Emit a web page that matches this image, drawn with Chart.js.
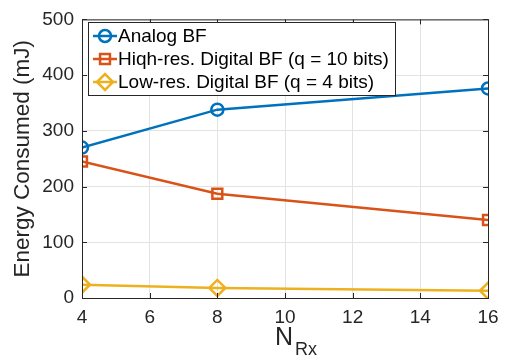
<!DOCTYPE html>
<html>
<head>
<meta charset="utf-8">
<script src="https://cdn.jsdelivr.net/npm/chart.js@4/dist/chart.umd.min.js"></script>
<style>
  html, body { margin: 0; padding: 0; background: #fff; }
  #wrap { width: 512px; height: 360px; }
</style>
</head>
<body>
<div id="wrap"><canvas id="c" width="512" height="360"></canvas></div>
<script>
var nRx = [4, 8, 16];
var analogBF = [270, 338, 376];
var highResBF = [245, 187, 140];
var lowResBF = [24, 18, 13];
var seriesLabels = ['Analog BF', 'Hiqh-res. Digital BF (q = 10 bits)', 'Low-res. Digital BF (q = 4 bits)'];
var xTicks = [4, 6, 8, 10, 12, 14, 16];
var yTicks = [0, 100, 200, 300, 400, 500];

var FONT = '"Liberation Sans", Arial, sans-serif';
var colors = ['#0072BD', '#D95319', '#EDB120'];
var markers = ['circle', 'rect', 'rectRot'];
var radii = [6, 7, 8];

function pts(ys) {
    return nRx.map(function (x, i) { return { x: x, y: ys[i] }; });
}

// frame, inward ticks, x title with subscript, boxed legend
var decor = {
    id: 'decor',
    afterDraw: function (chart) {
        var ctx = chart.ctx;
        var a = chart.chartArea;
        var xs = chart.scales.x, ys = chart.scales.y;
        ctx.save();
        ctx.strokeStyle = '#262626';
        ctx.lineWidth = 1;
        ctx.strokeRect(a.left + 0.5, a.top + 0.5, a.right - a.left, a.bottom - a.top);
        ctx.beginPath();
        xTicks.forEach(function (v) {
            var px = Math.round(xs.getPixelForValue(v)) + 0.5;
            ctx.moveTo(px, a.bottom); ctx.lineTo(px, a.bottom - 5);
            ctx.moveTo(px, a.top); ctx.lineTo(px, a.top + 5);
        });
        yTicks.forEach(function (v) {
            var py = Math.round(ys.getPixelForValue(v)) + 0.5;
            ctx.moveTo(a.left, py); ctx.lineTo(a.left + 5, py);
            ctx.moveTo(a.right, py); ctx.lineTo(a.right - 5, py);
        });
        ctx.stroke();

        // x axis title N_Rx
        ctx.fillStyle = '#262626';
        ctx.textBaseline = 'alphabetic';
        ctx.textAlign = 'left';
        ctx.font = '25px ' + FONT;
        var nW = ctx.measureText('N').width;
        var x0 = xs.getPixelForValue(10) - 10;
        ctx.fillText('N', x0, 345);
        ctx.font = '18px ' + FONT;
        ctx.fillText('Rx', x0 + nW + 2, 355);

        // legend
        var lx = 88, ly = 22, lw = 307, lh = 73;
        ctx.fillStyle = '#fff';
        ctx.fillRect(lx, ly, lw, lh);
        ctx.strokeStyle = '#262626';
        ctx.lineWidth = 1;
        ctx.strokeRect(lx + 0.5, ly + 0.5, lw, lh);
        ctx.textBaseline = 'middle';
        chart.data.datasets.forEach(function (ds, i) {
            var yy = ly + 14 + i * 23;
            ctx.strokeStyle = ds.borderColor;
            ctx.fillStyle = 'rgba(0,0,0,0)';
            ctx.lineWidth = 2.5;
            ctx.beginPath();
            ctx.moveTo(lx + 5, yy); ctx.lineTo(lx + 29, yy);
            ctx.stroke();
            Chart.helpers.drawPoint(ctx, {
                pointStyle: ds.pointStyle, radius: ds.pointRadius, borderWidth: 2.5, rotation: 0
            }, lx + 17, yy);
            ctx.fillStyle = '#000';
            ctx.font = '19px ' + FONT;
            ctx.fillText(ds.label, lx + 30, yy + 1);
        });
        ctx.restore();
    }
};

new Chart(document.getElementById('c'), {
    type: 'line',
    data: {
        datasets: [analogBF, highResBF, lowResBF].map(function (ys, i) {
            return {
                label: seriesLabels[i],
                data: pts(ys),
                borderColor: colors[i],
                backgroundColor: 'rgba(0,0,0,0)',
                borderWidth: 2.5,
                pointStyle: markers[i],
                pointRadius: radii[i],
                pointBorderWidth: 2.5,
                pointBackgroundColor: 'rgba(0,0,0,0)',
                tension: 0
            };
        })
    },
    options: {
        responsive: false,
        animation: false,
        layout: { padding: { top: 17, right: 24, left: 0, bottom: 0 } },
        plugins: { legend: { display: false }, tooltip: { enabled: false } },
        scales: {
            x: {
                type: 'linear',
                min: 4, max: 16,
                afterBuildTicks: function (s) { s.ticks = xTicks.map(function (v) { return { value: v }; }); },
                afterFit: function (s) { s.height = 62; },
                grid: { color: '#e3e3e3', drawTicks: false },
                border: { display: false },
                ticks: { color: '#262626', font: { family: FONT, size: 19 }, padding: 8, maxRotation: 0 }
            },
            y: {
                min: 0, max: 500,
                afterBuildTicks: function (s) { s.ticks = yTicks.map(function (v) { return { value: v }; }); },
                afterFit: function (s) { s.width = 82; },
                grid: { color: '#e3e3e3', drawTicks: false },
                border: { display: false },
                ticks: { color: '#262626', font: { family: FONT, size: 19 }, padding: 8 },
                title: { display: true, text: 'Energy Consumed (mJ)', color: '#262626', font: { family: FONT, size: 22.5 }, padding: { top: 9, bottom: 0 } }
            }
        }
    },
    plugins: [decor]
});
</script>
</body>
</html>
